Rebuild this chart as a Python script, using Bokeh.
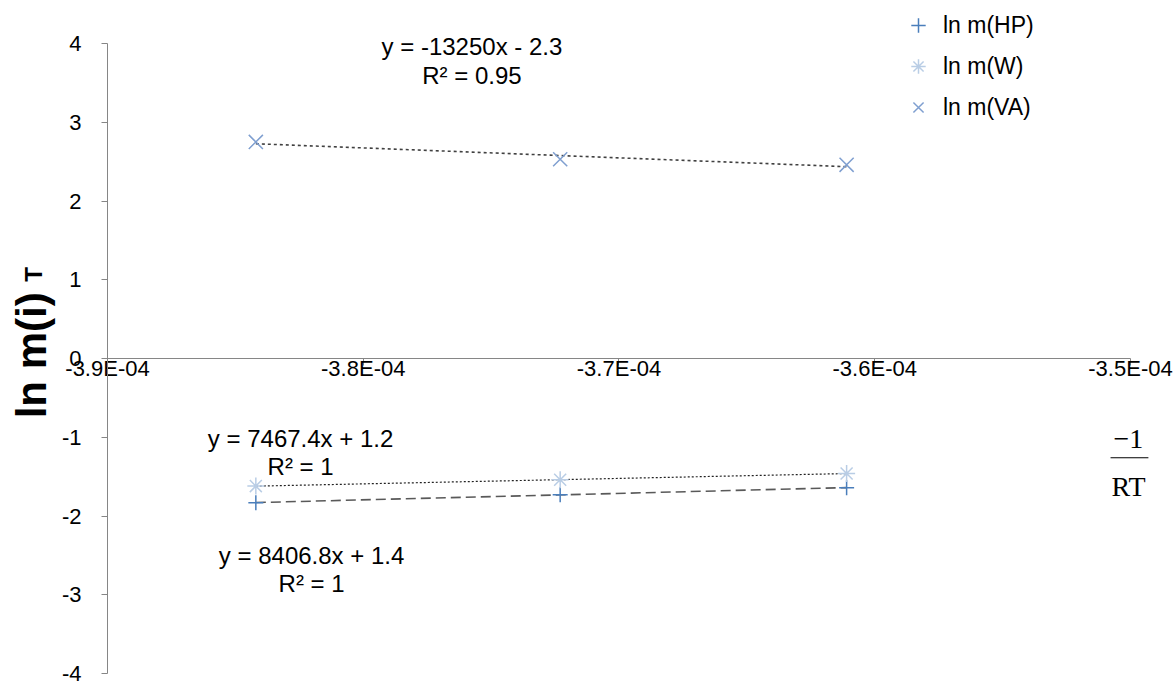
import numpy as np
from bokeh.plotting import figure
from bokeh.models import (Range1d, LinearAxis, FixedTicker, CustomJSTickFormatter,
                          Label, Legend, LegendItem, Arrow)
from bokeh.embed import file_html
from bokeh.resources import INLINE

# ---- data ----
inv_rt = [-3.842e-4, -3.723e-4, -3.611e-4]          # -1/RT
ln_m_hp = [-1.83, -1.73, -1.64]
ln_m_w = [-1.62, -1.54, -1.46]
ln_m_va = [2.75, 2.53, 2.46]
series_names = ["ln m(HP)", "ln m(W)", "ln m(VA)"]
x_ticks = [-3.9e-4, -3.8e-4, -3.7e-4, -3.6e-4, -3.5e-4]
y_ticks = [-4, -3, -2, -1, 0, 1, 2, 3, 4]
eq_va = ["y = -13250x - 2.3", "R\u00b2 = 0.95"]
eq_w = ["y = 7467.4x + 1.2", "R\u00b2 = 1"]
eq_hp = ["y = 8406.8x + 1.4", "R\u00b2 = 1"]
y_title = ["ln m(i)", "T"]
x_title = ["\u22121", "RT"]

FONT = "Liberation Sans"
SERIF = "Liberation Serif"
AXIS_GRAY = "#868686"

# visible plotting area: x in [-3.9e-4, -3.5e-4], y in [-4, 4]; the frame is
# the whole canvas so texts around the axes are not clipped
p = figure(width=1176, height=682, output_backend="svg", toolbar_location=None,
           x_range=Range1d(-3.94184e-4, -3.48201e-4), y_range=Range1d(-4.114, 4.546),
           x_axis_location=None, y_axis_location=None,
           min_border_left=0, min_border_right=0, min_border_top=0,
           min_border_bottom=0)
p.grid.visible = False
p.outline_line_color = None
p.background_fill_color = "white"

plain = CustomJSTickFormatter(code="return tick.toString();")

# y axis at x = -3.9e-4
ya = LinearAxis(fixed_location=x_ticks[0], bounds=(y_ticks[0], y_ticks[-1]))
ya.ticker = FixedTicker(ticks=y_ticks)
ya.formatter = plain
ya.major_label_text_font = FONT
ya.major_label_text_font_size = "22px"
ya.major_label_text_color = "black"
ya.axis_line_color = AXIS_GRAY
ya.major_tick_line_color = AXIS_GRAY
ya.major_tick_out = 6
ya.major_tick_in = 0
ya.minor_tick_out = 0
ya.minor_tick_in = 0
ya.major_label_standoff = 20
p.add_layout(ya, "left")

# x axis crossing at y = 0
xa = LinearAxis(fixed_location=0, bounds=(x_ticks[0], x_ticks[-1]))
xa.ticker = FixedTicker(ticks=x_ticks)
xa.formatter = CustomJSTickFormatter(
    code="return tick.toExponential(1).toUpperCase().replace(/E([+-])(\\d)$/, 'E$10$2');")
xa.major_label_text_font = FONT
xa.major_label_text_font_size = "22px"
xa.major_label_text_color = "black"
xa.axis_line_color = AXIS_GRAY
xa.major_tick_line_color = AXIS_GRAY
xa.major_tick_out = 7
xa.major_tick_in = 0
xa.minor_tick_out = 0
xa.minor_tick_in = 0
xa.major_label_standoff = -10
p.add_layout(xa, "below")

# trend lines (linear least squares of each series)
x_span = np.array([min(inv_rt), max(inv_rt)])
styles = [(ln_m_hp, "#595959", 1.6, "10 5"),
          (ln_m_w, "#222222", 1.2, "2 2"),
          (ln_m_va, "#404040", 1.6, "3 3")]
for vals, col, lw, dash in styles:
    k, b = np.polyfit(inv_rt, vals, 1)
    p.line(x_span, k * x_span + b, line_color=col, line_width=lw, line_dash=dash)

hp = p.scatter(inv_rt, ln_m_hp, marker="cross", size=15, line_color="#4a7ebb", line_width=1.5)
w = p.scatter(inv_rt, ln_m_w, marker="asterisk", size=17, line_color="#b9cde5", line_width=1.5)
va = p.scatter(inv_rt, ln_m_va, marker="x", size=20, line_color="#7f9fd0", line_width=1.5)

legend = Legend(items=[LegendItem(label=series_names[0], renderers=[hp]),
                       LegendItem(label=series_names[1], renderers=[w]),
                       LegendItem(label=series_names[2], renderers=[va])],
                location=(900, 557), orientation="vertical",
                border_line_color=None, background_fill_alpha=0,
                label_text_font=FONT, label_text_font_size="23px", label_text_color="black",
                glyph_width=36, glyph_height=36, label_height=36, spacing=5,
                padding=0, margin=0, label_standoff=7)
p.add_layout(legend)

def txt(x, y, s, size="24px", font=FONT, **kw):
    p.add_layout(Label(x=x, y=y, text=s, text_align="center", text_baseline="middle",
                       text_font=font, text_font_size=size, text_color="black", **kw))

# trendline equations
txt(-3.7575e-4, 3.96, eq_va[0])
txt(-3.7575e-4, 3.60, eq_va[1])
txt(-3.8245e-4, -1.02, eq_w[0])
txt(-3.8245e-4, -1.37, eq_w[1])
txt(-3.8202e-4, -2.50, eq_hp[0])
txt(-3.8202e-4, -2.86, eq_hp[1])

# y axis title with subscript T
txt(-3.92972e-4, 0.04, y_title[0], size="42px", angle=np.pi / 2, text_font_style="bold")
txt(-3.92894e-4, 1.067, y_title[1], size="24px", angle=np.pi / 2, text_font_style="bold")

# x axis title: -1 / RT
txt(-3.5008e-4, -1.02, x_title[0], size="28px", font=SERIF)
txt(-3.5008e-4, -1.63, x_title[1], size="28px", font=SERIF)
p.add_layout(Arrow(x_start=-3.5078e-4, y_start=-1.26, x_end=-3.4930e-4, y_end=-1.26,
                   start=None, end=None, line_color="black", line_width=1.2))

open("out.html", "w").write(file_html(p, INLINE))
